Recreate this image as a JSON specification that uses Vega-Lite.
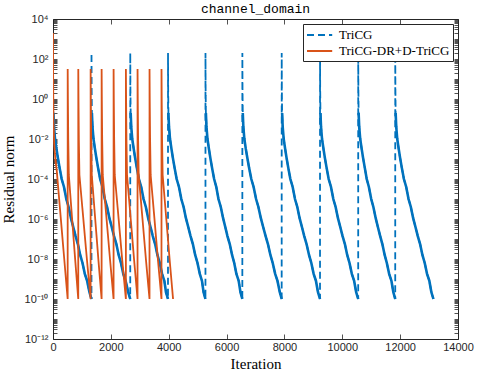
{
  "$schema": "https://vega.github.io/schema/vega-lite/v6.json",
  "width": 405,
  "height": 320,
  "autosize": "none",
  "padding": {"left": 53, "top": 19, "right": 20, "bottom": 34},
  "title": {"text": "channel_domain", "font": "Liberation Mono", "fontSize": 13, "fontWeight": "normal", "color": "#000", "offset": -3},
  "data": {"values": [
    {"s":"TriCG","c":0,"x":0,"y":3},{"s":"TriCG","c":0,"x":15,"y":0.2},{"s":"TriCG","c":0,"x":35,"y":0.04},{"s":"TriCG","c":0,"x":70,"y":0.01},{"s":"TriCG","c":0,"x":120,"y":0.0032},{"s":"TriCG","c":0,"x":170,"y":0.0011},{"s":"TriCG","c":0,"x":230,"y":0.00035},{"s":"TriCG","c":0,"x":300,"y":1e-4},{"s":"TriCG","c":0,"x":380,"y":4e-5},{"s":"TriCG","c":0,"x":460,"y":1e-5},{"s":"TriCG","c":0,"x":540,"y":4e-6},{"s":"TriCG","c":0,"x":620,"y":1.1e-6},{"s":"TriCG","c":0,"x":700,"y":4e-7},{"s":"TriCG","c":0,"x":780,"y":1.4e-7},{"s":"TriCG","c":0,"x":860,"y":5.6e-8},{"s":"TriCG","c":0,"x":940,"y":1.6e-8},{"s":"TriCG","c":0,"x":1020,"y":6.3e-9},{"s":"TriCG","c":0,"x":1100,"y":1.8e-9},{"s":"TriCG","c":0,"x":1180,"y":8e-10},{"s":"TriCG","c":0,"x":1260,"y":2.2e-10},{"s":"TriCG","c":0,"x":1330,"y":1e-10},
    {"s":"TriCG","c":1,"x":1331,"y":200},{"s":"TriCG","c":1,"x":1336,"y":3.2},{"s":"TriCG","c":1,"x":1345,"y":0.2},{"s":"TriCG","c":1,"x":1365,"y":0.04},{"s":"TriCG","c":1,"x":1400,"y":0.01},{"s":"TriCG","c":1,"x":1450,"y":0.0032},{"s":"TriCG","c":1,"x":1500,"y":0.0011},{"s":"TriCG","c":1,"x":1560,"y":0.00035},{"s":"TriCG","c":1,"x":1630,"y":1e-4},{"s":"TriCG","c":1,"x":1710,"y":4e-5},{"s":"TriCG","c":1,"x":1790,"y":1e-5},{"s":"TriCG","c":1,"x":1870,"y":4e-6},{"s":"TriCG","c":1,"x":1950,"y":1.1e-6},{"s":"TriCG","c":1,"x":2030,"y":4e-7},{"s":"TriCG","c":1,"x":2110,"y":1.4e-7},{"s":"TriCG","c":1,"x":2190,"y":5.6e-8},{"s":"TriCG","c":1,"x":2270,"y":1.6e-8},{"s":"TriCG","c":1,"x":2350,"y":6.3e-9},{"s":"TriCG","c":1,"x":2430,"y":1.8e-9},{"s":"TriCG","c":1,"x":2510,"y":8e-10},{"s":"TriCG","c":1,"x":2600,"y":2.2e-10},{"s":"TriCG","c":1,"x":2670,"y":1e-10},
    {"s":"TriCG","c":2,"x":2671,"y":200},{"s":"TriCG","c":2,"x":2676,"y":3.2},{"s":"TriCG","c":2,"x":2685,"y":0.2},{"s":"TriCG","c":2,"x":2705,"y":0.04},{"s":"TriCG","c":2,"x":2740,"y":0.01},{"s":"TriCG","c":2,"x":2790,"y":0.0032},{"s":"TriCG","c":2,"x":2840,"y":0.0011},{"s":"TriCG","c":2,"x":2900,"y":0.00035},{"s":"TriCG","c":2,"x":2970,"y":1e-4},{"s":"TriCG","c":2,"x":3050,"y":4e-5},{"s":"TriCG","c":2,"x":3130,"y":1e-5},{"s":"TriCG","c":2,"x":3210,"y":4e-6},{"s":"TriCG","c":2,"x":3290,"y":1.1e-6},{"s":"TriCG","c":2,"x":3370,"y":4e-7},{"s":"TriCG","c":2,"x":3450,"y":1.4e-7},{"s":"TriCG","c":2,"x":3530,"y":5.6e-8},{"s":"TriCG","c":2,"x":3610,"y":1.6e-8},{"s":"TriCG","c":2,"x":3690,"y":6.3e-9},{"s":"TriCG","c":2,"x":3770,"y":1.8e-9},{"s":"TriCG","c":2,"x":3850,"y":8e-10},{"s":"TriCG","c":2,"x":3905,"y":2.2e-10},{"s":"TriCG","c":2,"x":3975,"y":1e-10},
    {"s":"TriCG","c":3,"x":3976,"y":200},{"s":"TriCG","c":3,"x":3981,"y":3.2},{"s":"TriCG","c":3,"x":3990,"y":0.2},{"s":"TriCG","c":3,"x":4010,"y":0.04},{"s":"TriCG","c":3,"x":4045,"y":0.01},{"s":"TriCG","c":3,"x":4095,"y":0.0032},{"s":"TriCG","c":3,"x":4145,"y":0.0011},{"s":"TriCG","c":3,"x":4205,"y":0.00035},{"s":"TriCG","c":3,"x":4275,"y":1e-4},{"s":"TriCG","c":3,"x":4355,"y":4e-5},{"s":"TriCG","c":3,"x":4435,"y":1e-5},{"s":"TriCG","c":3,"x":4515,"y":4e-6},{"s":"TriCG","c":3,"x":4595,"y":1.1e-6},{"s":"TriCG","c":3,"x":4675,"y":4e-7},{"s":"TriCG","c":3,"x":4755,"y":1.4e-7},{"s":"TriCG","c":3,"x":4835,"y":5.6e-8},{"s":"TriCG","c":3,"x":4915,"y":1.6e-8},{"s":"TriCG","c":3,"x":4995,"y":6.3e-9},{"s":"TriCG","c":3,"x":5075,"y":1.8e-9},{"s":"TriCG","c":3,"x":5150,"y":8e-10},{"s":"TriCG","c":3,"x":5205,"y":2.2e-10},{"s":"TriCG","c":3,"x":5270,"y":1e-10},
    {"s":"TriCG","c":4,"x":5271,"y":200},{"s":"TriCG","c":4,"x":5276,"y":3.2},{"s":"TriCG","c":4,"x":5285,"y":0.2},{"s":"TriCG","c":4,"x":5305,"y":0.04},{"s":"TriCG","c":4,"x":5340,"y":0.01},{"s":"TriCG","c":4,"x":5390,"y":0.0032},{"s":"TriCG","c":4,"x":5440,"y":0.0011},{"s":"TriCG","c":4,"x":5500,"y":0.00035},{"s":"TriCG","c":4,"x":5570,"y":1e-4},{"s":"TriCG","c":4,"x":5645,"y":4e-5},{"s":"TriCG","c":4,"x":5720,"y":1e-5},{"s":"TriCG","c":4,"x":5800,"y":4e-6},{"s":"TriCG","c":4,"x":5880,"y":1.1e-6},{"s":"TriCG","c":4,"x":5955,"y":4e-7},{"s":"TriCG","c":4,"x":6030,"y":1.4e-7},{"s":"TriCG","c":4,"x":6110,"y":5.6e-8},{"s":"TriCG","c":4,"x":6190,"y":1.6e-8},{"s":"TriCG","c":4,"x":6265,"y":6.3e-9},{"s":"TriCG","c":4,"x":6340,"y":1.8e-9},{"s":"TriCG","c":4,"x":6420,"y":8e-10},{"s":"TriCG","c":4,"x":6480,"y":2.2e-10},{"s":"TriCG","c":4,"x":6545,"y":1e-10},
    {"s":"TriCG","c":5,"x":6546,"y":200},{"s":"TriCG","c":5,"x":6551,"y":3.2},{"s":"TriCG","c":5,"x":6560,"y":0.2},{"s":"TriCG","c":5,"x":6580,"y":0.04},{"s":"TriCG","c":5,"x":6615,"y":0.01},{"s":"TriCG","c":5,"x":6665,"y":0.0032},{"s":"TriCG","c":5,"x":6720,"y":0.0011},{"s":"TriCG","c":5,"x":6780,"y":0.00035},{"s":"TriCG","c":5,"x":6855,"y":1e-4},{"s":"TriCG","c":5,"x":6935,"y":4e-5},{"s":"TriCG","c":5,"x":7020,"y":1e-5},{"s":"TriCG","c":5,"x":7100,"y":4e-6},{"s":"TriCG","c":5,"x":7185,"y":1.1e-6},{"s":"TriCG","c":5,"x":7265,"y":4e-7},{"s":"TriCG","c":5,"x":7350,"y":1.4e-7},{"s":"TriCG","c":5,"x":7430,"y":5.6e-8},{"s":"TriCG","c":5,"x":7515,"y":1.6e-8},{"s":"TriCG","c":5,"x":7595,"y":6.3e-9},{"s":"TriCG","c":5,"x":7680,"y":1.8e-9},{"s":"TriCG","c":5,"x":7760,"y":8e-10},{"s":"TriCG","c":5,"x":7840,"y":2.2e-10},{"s":"TriCG","c":5,"x":7905,"y":1e-10},
    {"s":"TriCG","c":6,"x":7906,"y":200},{"s":"TriCG","c":6,"x":7911,"y":3.2},{"s":"TriCG","c":6,"x":7920,"y":0.2},{"s":"TriCG","c":6,"x":7940,"y":0.04},{"s":"TriCG","c":6,"x":7975,"y":0.01},{"s":"TriCG","c":6,"x":8025,"y":0.0032},{"s":"TriCG","c":6,"x":8075,"y":0.0011},{"s":"TriCG","c":6,"x":8135,"y":0.00035},{"s":"TriCG","c":6,"x":8205,"y":1e-4},{"s":"TriCG","c":6,"x":8285,"y":4e-5},{"s":"TriCG","c":6,"x":8365,"y":1e-5},{"s":"TriCG","c":6,"x":8445,"y":4e-6},{"s":"TriCG","c":6,"x":8525,"y":1.1e-6},{"s":"TriCG","c":6,"x":8605,"y":4e-7},{"s":"TriCG","c":6,"x":8685,"y":1.4e-7},{"s":"TriCG","c":6,"x":8765,"y":5.6e-8},{"s":"TriCG","c":6,"x":8850,"y":1.6e-8},{"s":"TriCG","c":6,"x":8930,"y":6.3e-9},{"s":"TriCG","c":6,"x":9010,"y":1.8e-9},{"s":"TriCG","c":6,"x":9090,"y":8e-10},{"s":"TriCG","c":6,"x":9160,"y":2.2e-10},{"s":"TriCG","c":6,"x":9230,"y":1e-10},
    {"s":"TriCG","c":7,"x":9231,"y":200},{"s":"TriCG","c":7,"x":9236,"y":3.2},{"s":"TriCG","c":7,"x":9245,"y":0.2},{"s":"TriCG","c":7,"x":9265,"y":0.04},{"s":"TriCG","c":7,"x":9300,"y":0.01},{"s":"TriCG","c":7,"x":9350,"y":0.0032},{"s":"TriCG","c":7,"x":9400,"y":0.0011},{"s":"TriCG","c":7,"x":9460,"y":0.00035},{"s":"TriCG","c":7,"x":9530,"y":1e-4},{"s":"TriCG","c":7,"x":9610,"y":4e-5},{"s":"TriCG","c":7,"x":9690,"y":1e-5},{"s":"TriCG","c":7,"x":9770,"y":4e-6},{"s":"TriCG","c":7,"x":9850,"y":1.1e-6},{"s":"TriCG","c":7,"x":9930,"y":4e-7},{"s":"TriCG","c":7,"x":10010,"y":1.4e-7},{"s":"TriCG","c":7,"x":10090,"y":5.6e-8},{"s":"TriCG","c":7,"x":10170,"y":1.6e-8},{"s":"TriCG","c":7,"x":10250,"y":6.3e-9},{"s":"TriCG","c":7,"x":10330,"y":1.8e-9},{"s":"TriCG","c":7,"x":10410,"y":8e-10},{"s":"TriCG","c":7,"x":10480,"y":2.2e-10},{"s":"TriCG","c":7,"x":10550,"y":1e-10},
    {"s":"TriCG","c":8,"x":10551,"y":200},{"s":"TriCG","c":8,"x":10556,"y":3.2},{"s":"TriCG","c":8,"x":10565,"y":0.2},{"s":"TriCG","c":8,"x":10585,"y":0.04},{"s":"TriCG","c":8,"x":10620,"y":0.01},{"s":"TriCG","c":8,"x":10670,"y":0.0032},{"s":"TriCG","c":8,"x":10720,"y":0.0011},{"s":"TriCG","c":8,"x":10780,"y":0.00035},{"s":"TriCG","c":8,"x":10845,"y":1e-4},{"s":"TriCG","c":8,"x":10920,"y":4e-5},{"s":"TriCG","c":8,"x":11000,"y":1e-5},{"s":"TriCG","c":8,"x":11075,"y":4e-6},{"s":"TriCG","c":8,"x":11155,"y":1.1e-6},{"s":"TriCG","c":8,"x":11230,"y":4e-7},{"s":"TriCG","c":8,"x":11310,"y":1.4e-7},{"s":"TriCG","c":8,"x":11385,"y":5.6e-8},{"s":"TriCG","c":8,"x":11465,"y":1.6e-8},{"s":"TriCG","c":8,"x":11540,"y":6.3e-9},{"s":"TriCG","c":8,"x":11620,"y":1.8e-9},{"s":"TriCG","c":8,"x":11700,"y":8e-10},{"s":"TriCG","c":8,"x":11765,"y":2.2e-10},{"s":"TriCG","c":8,"x":11830,"y":1e-10},
    {"s":"TriCG","c":9,"x":11831,"y":200},{"s":"TriCG","c":9,"x":11836,"y":3.2},{"s":"TriCG","c":9,"x":11845,"y":0.2},{"s":"TriCG","c":9,"x":11865,"y":0.04},{"s":"TriCG","c":9,"x":11900,"y":0.01},{"s":"TriCG","c":9,"x":11950,"y":0.0032},{"s":"TriCG","c":9,"x":12000,"y":0.0011},{"s":"TriCG","c":9,"x":12060,"y":0.00035},{"s":"TriCG","c":9,"x":12130,"y":1e-4},{"s":"TriCG","c":9,"x":12210,"y":4e-5},{"s":"TriCG","c":9,"x":12290,"y":1e-5},{"s":"TriCG","c":9,"x":12370,"y":4e-6},{"s":"TriCG","c":9,"x":12450,"y":1.1e-6},{"s":"TriCG","c":9,"x":12530,"y":4e-7},{"s":"TriCG","c":9,"x":12610,"y":1.4e-7},{"s":"TriCG","c":9,"x":12690,"y":5.6e-8},{"s":"TriCG","c":9,"x":12770,"y":1.6e-8},{"s":"TriCG","c":9,"x":12850,"y":6.3e-9},{"s":"TriCG","c":9,"x":12930,"y":1.8e-9},{"s":"TriCG","c":9,"x":13010,"y":8e-10},{"s":"TriCG","c":9,"x":13080,"y":2.2e-10},{"s":"TriCG","c":9,"x":13150,"y":1e-10},
    {"s":"TriCG-DR+D-TriCG","c":0,"x":0,"y":2000},{"s":"TriCG-DR+D-TriCG","c":0,"x":5,"y":10},{"s":"TriCG-DR+D-TriCG","c":0,"x":15,"y":0.1},{"s":"TriCG-DR+D-TriCG","c":0,"x":40,"y":0.006},{"s":"TriCG-DR+D-TriCG","c":0,"x":80,"y":0.001},{"s":"TriCG-DR+D-TriCG","c":0,"x":128,"y":2.8e-4},{"s":"TriCG-DR+D-TriCG","c":0,"x":250,"y":2.3e-6},{"s":"TriCG-DR+D-TriCG","c":0,"x":380,"y":1.4e-8},{"s":"TriCG-DR+D-TriCG","c":0,"x":450,"y":9e-10},{"s":"TriCG-DR+D-TriCG","c":0,"x":507,"y":1e-10},
    {"s":"TriCG-DR+D-TriCG","c":1,"x":508,"y":32},{"s":"TriCG-DR+D-TriCG","c":1,"x":515,"y":1},{"s":"TriCG-DR+D-TriCG","c":1,"x":527,"y":0.01},{"s":"TriCG-DR+D-TriCG","c":1,"x":547,"y":1.6e-4},{"s":"TriCG-DR+D-TriCG","c":1,"x":655,"y":1.3e-6},{"s":"TriCG-DR+D-TriCG","c":1,"x":765,"y":1e-8},{"s":"TriCG-DR+D-TriCG","c":1,"x":873,"y":1e-10},
    {"s":"TriCG-DR+D-TriCG","c":2,"x":874,"y":32},{"s":"TriCG-DR+D-TriCG","c":2,"x":881,"y":1},{"s":"TriCG-DR+D-TriCG","c":2,"x":893,"y":0.01},{"s":"TriCG-DR+D-TriCG","c":2,"x":913,"y":1.6e-4},{"s":"TriCG-DR+D-TriCG","c":2,"x":1042,"y":1.3e-6},{"s":"TriCG-DR+D-TriCG","c":2,"x":1171,"y":1e-8},{"s":"TriCG-DR+D-TriCG","c":2,"x":1300,"y":1e-10},
    {"s":"TriCG-DR+D-TriCG","c":3,"x":1301,"y":32},{"s":"TriCG-DR+D-TriCG","c":3,"x":1308,"y":1},{"s":"TriCG-DR+D-TriCG","c":3,"x":1320,"y":0.01},{"s":"TriCG-DR+D-TriCG","c":3,"x":1340,"y":1.6e-4},{"s":"TriCG-DR+D-TriCG","c":3,"x":1453,"y":1.3e-6},{"s":"TriCG-DR+D-TriCG","c":3,"x":1567,"y":1e-8},{"s":"TriCG-DR+D-TriCG","c":3,"x":1680,"y":1e-10},
    {"s":"TriCG-DR+D-TriCG","c":4,"x":1681,"y":32},{"s":"TriCG-DR+D-TriCG","c":4,"x":1688,"y":1},{"s":"TriCG-DR+D-TriCG","c":4,"x":1700,"y":0.01},{"s":"TriCG-DR+D-TriCG","c":4,"x":1720,"y":1.6e-4},{"s":"TriCG-DR+D-TriCG","c":4,"x":1845,"y":1.3e-6},{"s":"TriCG-DR+D-TriCG","c":4,"x":1970,"y":1e-8},{"s":"TriCG-DR+D-TriCG","c":4,"x":2094,"y":1e-10},
    {"s":"TriCG-DR+D-TriCG","c":5,"x":2095,"y":32},{"s":"TriCG-DR+D-TriCG","c":5,"x":2102,"y":1},{"s":"TriCG-DR+D-TriCG","c":5,"x":2114,"y":0.01},{"s":"TriCG-DR+D-TriCG","c":5,"x":2134,"y":1.6e-4},{"s":"TriCG-DR+D-TriCG","c":5,"x":2262,"y":1.3e-6},{"s":"TriCG-DR+D-TriCG","c":5,"x":2390,"y":1e-8},{"s":"TriCG-DR+D-TriCG","c":5,"x":2519,"y":1e-10},
    {"s":"TriCG-DR+D-TriCG","c":6,"x":2520,"y":32},{"s":"TriCG-DR+D-TriCG","c":6,"x":2527,"y":1},{"s":"TriCG-DR+D-TriCG","c":6,"x":2539,"y":0.01},{"s":"TriCG-DR+D-TriCG","c":6,"x":2559,"y":1.6e-4},{"s":"TriCG-DR+D-TriCG","c":6,"x":2680,"y":1.3e-6},{"s":"TriCG-DR+D-TriCG","c":6,"x":2801,"y":1e-8},{"s":"TriCG-DR+D-TriCG","c":6,"x":2922,"y":1e-10},
    {"s":"TriCG-DR+D-TriCG","c":7,"x":2923,"y":32},{"s":"TriCG-DR+D-TriCG","c":7,"x":2930,"y":1},{"s":"TriCG-DR+D-TriCG","c":7,"x":2942,"y":0.01},{"s":"TriCG-DR+D-TriCG","c":7,"x":2962,"y":1.6e-4},{"s":"TriCG-DR+D-TriCG","c":7,"x":3087,"y":1.3e-6},{"s":"TriCG-DR+D-TriCG","c":7,"x":3211,"y":1e-8},{"s":"TriCG-DR+D-TriCG","c":7,"x":3336,"y":1e-10},
    {"s":"TriCG-DR+D-TriCG","c":8,"x":3337,"y":32},{"s":"TriCG-DR+D-TriCG","c":8,"x":3344,"y":1},{"s":"TriCG-DR+D-TriCG","c":8,"x":3356,"y":0.01},{"s":"TriCG-DR+D-TriCG","c":8,"x":3376,"y":1.6e-4},{"s":"TriCG-DR+D-TriCG","c":8,"x":3501,"y":1.3e-6},{"s":"TriCG-DR+D-TriCG","c":8,"x":3625,"y":1e-8},{"s":"TriCG-DR+D-TriCG","c":8,"x":3750,"y":1e-10},
    {"s":"TriCG-DR+D-TriCG","c":9,"x":3751,"y":32},{"s":"TriCG-DR+D-TriCG","c":9,"x":3758,"y":1},{"s":"TriCG-DR+D-TriCG","c":9,"x":3770,"y":0.01},{"s":"TriCG-DR+D-TriCG","c":9,"x":3790,"y":1.6e-4},{"s":"TriCG-DR+D-TriCG","c":9,"x":3910,"y":1.3e-6},{"s":"TriCG-DR+D-TriCG","c":9,"x":4030,"y":1e-8},{"s":"TriCG-DR+D-TriCG","c":9,"x":4150,"y":1e-10}
  ]},
  "layer": [
    {
      "transform": [{"filter": "datum.s == 'TriCG'"}],
      "mark": {"type": "line", "strokeWidth": 1.8, "clip": true},
      "encoding": {
        "x": {"field": "x", "type": "quantitative", "scale": {"domain": [0, 14000], "nice": false, "zero": false},
          "axis": {"orient": "bottom", "title": "Iteration", "values": [0, 2000, 4000, 6000, 8000, 10000, 12000, 14000], "format": "d", "tickSize": -5, "labelPadding": 7, "titlePadding": 4, "labelFlush": false}},
        "y": {"field": "y", "type": "quantitative", "scale": {"type": "log", "domain": [1e-12, 10000], "nice": false},
          "axis": {"orient": "left", "title": "Residual norm", "tickSize": -4, "labelPadding": 9, "titlePadding": 8, "labelOverlap": false, "labelFlush": false, "labelBound": false,
            "values": [1e-12,2e-12,3e-12,4e-12,5e-12,6e-12,7e-12,8e-12,9e-12,1e-11,2e-11,3e-11,4e-11,5e-11,6e-11,7e-11,8e-11,9e-11,1e-10,2e-10,3e-10,4e-10,5e-10,6e-10,7e-10,8e-10,9e-10,1e-9,2e-9,3e-9,4e-9,5e-9,6e-9,7e-9,8e-9,9e-9,1e-8,2e-8,3e-8,4e-8,5e-8,6e-8,7e-8,8e-8,9e-8,1e-7,2e-7,3e-7,4e-7,5e-7,6e-7,7e-7,8e-7,9e-7,1e-6,2e-6,3e-6,4e-6,5e-6,6e-6,7e-6,8e-6,9e-6,1e-5,2e-5,3e-5,4e-5,5e-5,6e-5,7e-5,8e-5,9e-5,1e-4,2e-4,3e-4,4e-4,5e-4,6e-4,7e-4,8e-4,9e-4,0.001,0.002,0.003,0.004,0.005,0.006,0.007,0.008,0.009,0.01,0.02,0.03,0.04,0.05,0.06,0.07,0.08,0.09,0.1,0.2,0.3,0.4,0.5,0.6,0.7,0.8,0.9,1,2,3,4,5,6,7,8,9,10,20,30,40,50,60,70,80,90,100,200,300,400,500,600,700,800,900,1000,2000,3000,4000,5000,6000,7000,8000,9000,10000],
            "labelExpr": "abs(log(datum.value)/LN10-round(log(datum.value)/LN10))>0.01?'':round(log(datum.value)/LN10)==4?'10⁴':round(log(datum.value)/LN10)==2?'10²':round(log(datum.value)/LN10)==0?'10⁰':round(log(datum.value)/LN10)==-2?'10⁻²':round(log(datum.value)/LN10)==-4?'10⁻⁴':round(log(datum.value)/LN10)==-6?'10⁻⁶':round(log(datum.value)/LN10)==-8?'10⁻⁸':round(log(datum.value)/LN10)==-10?'10⁻¹⁰':round(log(datum.value)/LN10)==-12?'10⁻¹²':''",
            "encode": {"ticks": {"x2": {"condition": {"test": "abs(log(datum.value)/LN10-round(log(datum.value)/LN10))<0.01", "value": 5}, "value": 3}}}}},
        "color": {"field": "s", "type": "nominal", "scale": {"domain": ["TriCG", "TriCG-DR+D-TriCG"], "range": ["#0072BD", "#D95319"]}, "legend": {"title": null}},
        "strokeDash": {"field": "s", "type": "nominal", "scale": {"domain": ["TriCG", "TriCG-DR+D-TriCG"], "range": [[7, 4], [1, 0]]}, "legend": {"title": null}}
      }
    },
    {
      "transform": [{"filter": "datum.s == 'TriCG' && datum.y < 1"}],
      "mark": {"type": "line", "strokeWidth": 2.6, "clip": true},
      "encoding": {
        "x": {"field": "x", "type": "quantitative", "scale": {"domain": [0, 14000], "nice": false, "zero": false}, "axis": null},
        "y": {"field": "y", "type": "quantitative", "scale": {"type": "log", "domain": [1e-12, 10000], "nice": false}, "axis": null},
        "detail": {"field": "c", "type": "nominal"},
        "color": {"field": "s", "type": "nominal", "scale": {"domain": ["TriCG", "TriCG-DR+D-TriCG"], "range": ["#0072BD", "#D95319"]}, "legend": {"title": null}}
      }
    },
    {
      "transform": [{"filter": "datum.s == 'TriCG-DR+D-TriCG'"}],
      "mark": {"type": "line", "strokeWidth": 1.8, "clip": true},
      "encoding": {
        "x": {"field": "x", "type": "quantitative", "scale": {"domain": [0, 14000], "nice": false, "zero": false},
          "axis": {"orient": "top", "title": null, "labels": false, "values": [0, 2000, 4000, 6000, 8000, 10000, 12000, 14000], "tickSize": -5}},
        "y": {"field": "y", "type": "quantitative", "scale": {"type": "log", "domain": [1e-12, 10000], "nice": false},
          "axis": {"orient": "right", "title": null, "labels": false, "tickSize": -4,
            "values": [1e-12,2e-12,3e-12,4e-12,5e-12,6e-12,7e-12,8e-12,9e-12,1e-11,2e-11,3e-11,4e-11,5e-11,6e-11,7e-11,8e-11,9e-11,1e-10,2e-10,3e-10,4e-10,5e-10,6e-10,7e-10,8e-10,9e-10,1e-9,2e-9,3e-9,4e-9,5e-9,6e-9,7e-9,8e-9,9e-9,1e-8,2e-8,3e-8,4e-8,5e-8,6e-8,7e-8,8e-8,9e-8,1e-7,2e-7,3e-7,4e-7,5e-7,6e-7,7e-7,8e-7,9e-7,1e-6,2e-6,3e-6,4e-6,5e-6,6e-6,7e-6,8e-6,9e-6,1e-5,2e-5,3e-5,4e-5,5e-5,6e-5,7e-5,8e-5,9e-5,1e-4,2e-4,3e-4,4e-4,5e-4,6e-4,7e-4,8e-4,9e-4,0.001,0.002,0.003,0.004,0.005,0.006,0.007,0.008,0.009,0.01,0.02,0.03,0.04,0.05,0.06,0.07,0.08,0.09,0.1,0.2,0.3,0.4,0.5,0.6,0.7,0.8,0.9,1,2,3,4,5,6,7,8,9,10,20,30,40,50,60,70,80,90,100,200,300,400,500,600,700,800,900,1000,2000,3000,4000,5000,6000,7000,8000,9000,10000],
            "encode": {"ticks": {"x2": {"condition": {"test": "abs(log(datum.value)/LN10-round(log(datum.value)/LN10))<0.01", "value": -5}, "value": -3}}}}},
        "color": {"field": "s", "type": "nominal", "scale": {"domain": ["TriCG", "TriCG-DR+D-TriCG"], "range": ["#0072BD", "#D95319"]}, "legend": {"title": null}},
        "strokeDash": {"field": "s", "type": "nominal", "scale": {"domain": ["TriCG", "TriCG-DR+D-TriCG"], "range": [[7, 4], [1, 0]]}, "legend": {"title": null}}
      }
    }
  ],
  "resolve": {"axis": {"x": "independent", "y": "independent"}},
  "config": {
    "view": {"stroke": "#262626", "strokeWidth": 1},
    "axis": {"grid": false, "domain": false, "labelFont": "Liberation Sans", "labelFontSize": 11, "labelColor": "#262626", "tickColor": "#262626", "tickWidth": 0.8, "titleFont": "Liberation Serif", "titleFontSize": 15, "titleFontWeight": "normal", "titleColor": "#000"},
    "legend": {"orient": "top-right", "offset": 5, "fillColor": "white", "strokeColor": "#262626", "padding": 3, "cornerRadius": 0, "labelFont": "Liberation Serif", "labelFontSize": 13, "labelColor": "#000", "symbolType": "M-1,0H2.6", "symbolSize": 196, "symbolStrokeWidth": 2, "labelOffset": 17, "rowPadding": 1}
  }
}
